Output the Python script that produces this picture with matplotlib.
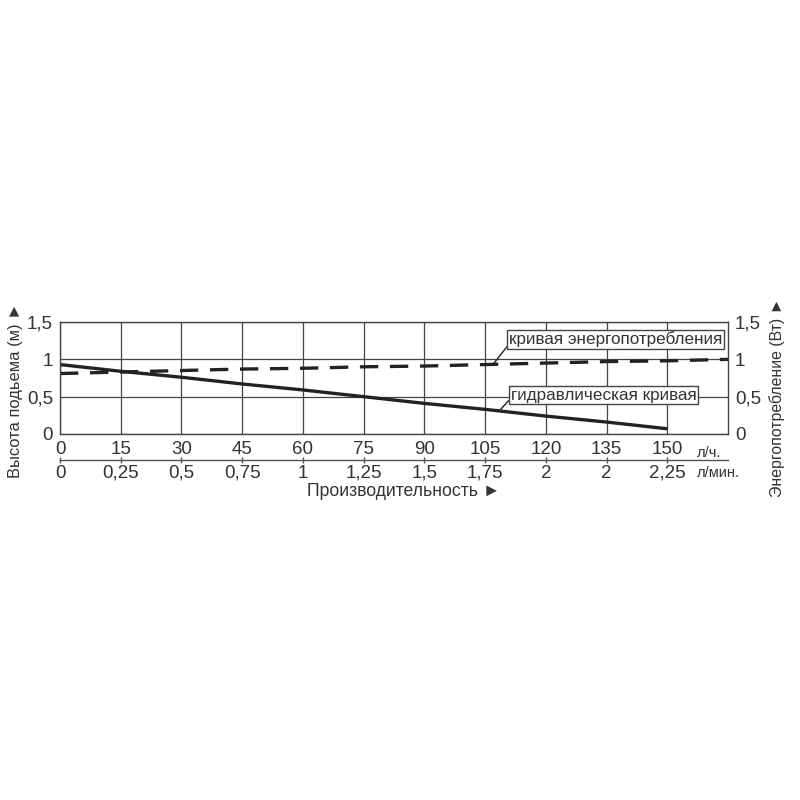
import matplotlib.pyplot as plt

plt.rcParams['font.family'] = ['Liberation Sans', 'DejaVu Sans']

flow_lh = [0, 15, 30, 45, 60, 75, 90, 105, 120, 135, 150]
flow_lmin_labels = ["0", "0,25", "0,5", "0,75", "1", "1,25", "1,5", "1,75", "2", "2", "2,25"]
head_m = [0.93, 0.84, 0.76, 0.67, 0.59, 0.50, 0.41, 0.33, 0.24, 0.16, 0.07]

power_flow = [0, 15, 30, 45, 60, 75, 90, 105, 120, 135, 150, 165]
power_w = [0.81, 0.83, 0.85, 0.87, 0.88, 0.90, 0.91, 0.93, 0.95, 0.97, 0.98, 1.0]

y_ticks = [0, 0.5, 1, 1.5]
y_labels = ["0", "0,5", "1", "1,5"]

txt = "#333333"
line = "#222222"
tick_fs = 13.5

fig = plt.figure(figsize=(8, 8), dpi=100)
ax = fig.add_axes([0.075, 0.4575, 0.835, 0.14])

ax.plot(flow_lh, head_m, color=line, lw=2.4, solid_capstyle="butt")
dash, = ax.plot(power_flow, power_w, color=line, lw=2.4)
dash.set_dashes([5.5, 3.5])

ax.set_xlim(0, 165)
ax.set_ylim(0, 1.5)
ax.set_xticks(flow_lh)
ax.set_xticklabels([str(v) for v in flow_lh])
ax.set_yticks(y_ticks)
ax.set_yticklabels(y_labels)
ax.grid(True, color="#444444", lw=0.9)
ax.tick_params(axis="both", length=0, labelsize=tick_fs, colors=txt)
ax.tick_params(axis="x", pad=5)
ax.tick_params(axis="y", pad=5)
for s in ax.spines.values():
    s.set_color("#444444")
    s.set_linewidth(1.0)

ax2 = ax.twinx()
ax2.set_ylim(0, 1.5)
ax2.set_yticks(y_ticks)
ax2.set_yticklabels(y_labels)
ax2.tick_params(axis="y", length=0, labelsize=tick_fs, colors=txt, pad=5)
for s in ax2.spines.values():
    s.set_visible(False)

sec = ax.secondary_xaxis(-0.232)
sec.set_xticks(flow_lh)
sec.set_xticklabels(flow_lmin_labels)
sec.tick_params(axis="x", direction="inout", length=5, width=1, color="#555555",
                labelsize=tick_fs, labelcolor=txt, pad=1)
sec.spines["bottom"].set_color("#555555")
sec.spines["bottom"].set_linewidth(1.0)

box = dict(boxstyle="square,pad=0.1", fc="white", ec="#444444", lw=1.0)
ax.annotate("кривая энергопотребления", xy=(107, 0.935), xytext=(137.3, 1.27),
            ha="center", va="center", fontsize=12.3, color=txt, bbox=box,
            arrowprops=dict(arrowstyle="-", color=line, lw=1.0, shrinkA=0, shrinkB=0,
                            relpos=(0, 0.2)))
ax.annotate("гидравлическая кривая", xy=(108.5, 0.31), xytext=(134.3, 0.52),
            ha="center", va="center", fontsize=12.3, color=txt, bbox=box,
            arrowprops=dict(arrowstyle="-", color=line, lw=1.0, shrinkA=0, shrinkB=0,
                            relpos=(0, 0.3)))

fig.text(697 / 800, 1 - 453 / 800, "л/ч.", fontsize=10.5, color=txt, ha="left", va="center")
fig.text(697 / 800, 1 - 473 / 800, "л/мин.", fontsize=10.5, color=txt, ha="left", va="center")

fig.text(16 / 800, 1 - 390 / 800, "Высота подьема (м) ►", rotation=90, fontsize=11.9,
         color=txt, ha="center", va="center")
fig.text(777 / 800, 1 - 397 / 800, "Энергопотребление (Вт) ►", rotation=90, fontsize=11.4,
         color=txt, ha="center", va="center")
fig.text(404 / 800, 1 - 492 / 800, "Производительность ►", fontsize=12.7, color=txt,
         ha="center", va="center")

fig.savefig("out.png", dpi=100, facecolor="white")
